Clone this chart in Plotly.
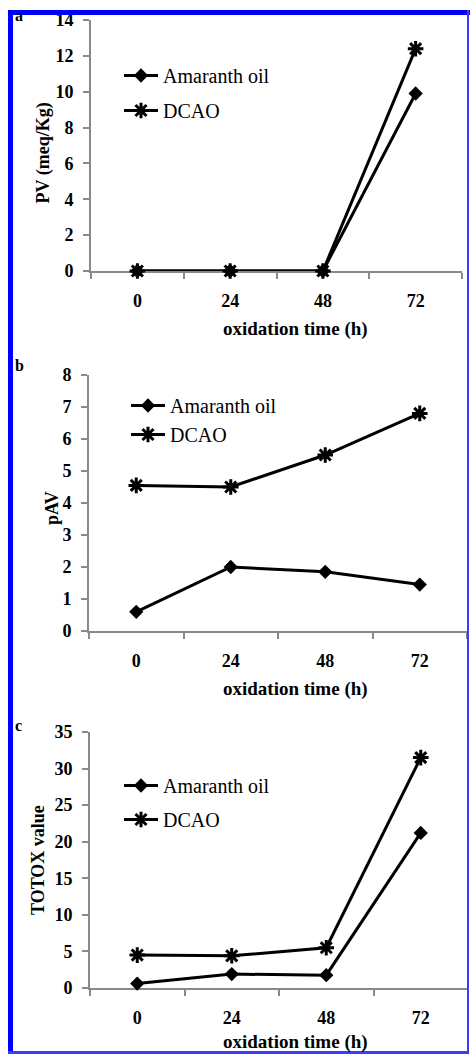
import plotly.graph_objects as go

W, H = 470, 1054

times = ["0", "24", "48", "72"]
series_names = ["Amaranth oil", "DCAO"]

pv_amaranth = [0.0, 0.0, 0.0, 9.9]
pv_dcao = [0.0, 0.0, 0.0, 12.4]

pav_amaranth = [0.6, 2.0, 1.85, 1.45]
pav_dcao = [4.55, 4.5, 5.5, 6.8]

totox_amaranth = [0.6, 1.9, 1.75, 21.2]
totox_dcao = [4.5, 4.4, 5.5, 31.5]

y_titles = ["PV (meq/Kg)", "pAV", "TOTOX value"]
x_title = "oxidation time (h)"
panel_letters = ["a", "b", "c"]

SERIF = "Liberation Serif, Times New Roman, serif"
AX_GRAY = "#8a8a8a"

# panel pixel boxes: (x0, x1, y_top, y_bottom)
boxes = [(91, 462, 20, 271), (89, 467, 375, 631), (90, 468, 732, 988)]
yranges = [(0, 14, 2), (0, 8, 1), (0, 35, 5)]
data = [(pv_amaranth, pv_dcao), (pav_amaranth, pav_dcao), (totox_amaranth, totox_dcao)]
legend_pos = [(119, 56), (126, 386), (119, 766)]
legend_gap = [6, 0, 5]
xtitle_offset = [58, 58, 54]

def px_x(x):
    return x / W

def px_y(y):
    return 1 - y / H

fig = go.Figure()
layout = dict(
    width=W, height=H,
    margin=dict(l=0, r=0, t=0, b=0, autoexpand=False),
    paper_bgcolor="white", plot_bgcolor="white",
    showlegend=True,
    font=dict(family=SERIF, color="black"),
)
annotations = []
TICKFONT = dict(family=SERIF, size=18, weight="bold", color="black")

for i in range(3):
    x0, x1, yt, yb = boxes[i]
    sfx = "" if i == 0 else str(i + 1)
    amar, dcao = data[i]
    leg = "legend" + sfx
    fig.add_trace(go.Scatter(
        x=times, y=amar, name=series_names[0], mode="lines+markers",
        xaxis="x" + sfx, yaxis="y" + sfx, legend=leg, legendgroup="a%d" % i,
        line=dict(color="black", width=3), cliponaxis=False,
        marker=dict(symbol="diamond", size=11, color="black"),
    ))
    fig.add_trace(go.Scatter(
        x=times, y=dcao, name=series_names[1], mode="lines+markers",
        xaxis="x" + sfx, yaxis="y" + sfx, legend=leg, legendgroup="d%d" % i,
        line=dict(color="black", width=3), cliponaxis=False,
        marker=dict(symbol="asterisk", size=13, color="black",
                    line=dict(color="black", width=3)),
    ))
    lo, hi, dt = yranges[i]
    layout["xaxis" + sfx] = dict(
        domain=[px_x(x0), px_x(x1)], anchor="y" + sfx, automargin=False,
        type="category", tickson="boundaries", range=[-0.5, 3.5],
        showline=True, linecolor=AX_GRAY, linewidth=2, layer="below traces",
        ticks="outside", ticklen=6, tickwidth=2, tickcolor=AX_GRAY,
        showgrid=False, zeroline=False, ticklabelstandoff=12,
        tickfont=TICKFONT,
    )
    layout["yaxis" + sfx] = dict(
        domain=[px_y(yb), px_y(yt)], anchor="x" + sfx, automargin=False,
        range=[lo, hi], dtick=dt, tick0=0,
        showline=True, linecolor=AX_GRAY, linewidth=2, layer="below traces",
        ticks="outside", ticklen=6, tickwidth=2, tickcolor=AX_GRAY,
        showgrid=False, zeroline=False, ticklabelstandoff=6,
        tickfont=TICKFONT,
    )
    lx, ly = legend_pos[i]
    layout[leg] = dict(
        x=px_x(lx), y=px_y(ly), xanchor="left", yanchor="top",
        bgcolor="rgba(0,0,0,0)", itemwidth=34, tracegroupgap=legend_gap[i],
        font=dict(family=SERIF, size=20, color="black"),
        traceorder="grouped",
    )
    # x axis title
    annotations.append(dict(
        text=x_title, xref="paper", yref="paper",
        x=px_x(295), y=px_y(yb + xtitle_offset[i]), xanchor="center", yanchor="middle",
        showarrow=False, font=dict(family=SERIF, size=19, weight="bold", color="black"),
    ))
    # y axis title
    ytx = [43, 52, 38][i]
    annotations.append(dict(
        text=y_titles[i], xref="paper", yref="paper", textangle=-90,
        x=px_x(ytx), y=px_y((yt + yb) / 2 + [8, 5, 0][i]), xanchor="center", yanchor="middle",
        showarrow=False, font=dict(family=SERIF, size=18, weight="bold", color="black"),
    ))
    # panel letter
    ply = [15, 365, 725][i]
    annotations.append(dict(
        text=panel_letters[i], xref="paper", yref="paper",
        x=px_x(13), y=px_y(ply), xanchor="left", yanchor="middle",
        showarrow=False, font=dict(family=SERIF, size=16, weight="bold", color="black"),
    ))

BLUE = "#0000ff"
shapes = [
    dict(type="rect", xref="paper", yref="paper", x0=px_x(8), x1=px_x(13), y0=px_y(1053), y1=px_y(10),
         fillcolor=BLUE, line=dict(width=0), layer="above"),
    dict(type="rect", xref="paper", yref="paper", x0=px_x(8), x1=px_x(470), y0=px_y(15), y1=px_y(10),
         fillcolor=BLUE, line=dict(width=0), layer="above"),
    dict(type="rect", xref="paper", yref="paper", x0=px_x(467), x1=px_x(469), y0=px_y(1053), y1=px_y(10),
         fillcolor="#3b3bff", line=dict(width=0), layer="above"),
    dict(type="rect", xref="paper", yref="paper", x0=px_x(8), x1=px_x(469), y0=px_y(1054), y1=px_y(1051),
         fillcolor="#3b3bff", line=dict(width=0), layer="above"),
]
layout["annotations"] = annotations
layout["shapes"] = shapes
fig.update_layout(**layout)
fig.write_html("out.html", config={"displayModeBar": False},
               post_script="document.body.style.margin='0';document.body.style.padding='0';")
